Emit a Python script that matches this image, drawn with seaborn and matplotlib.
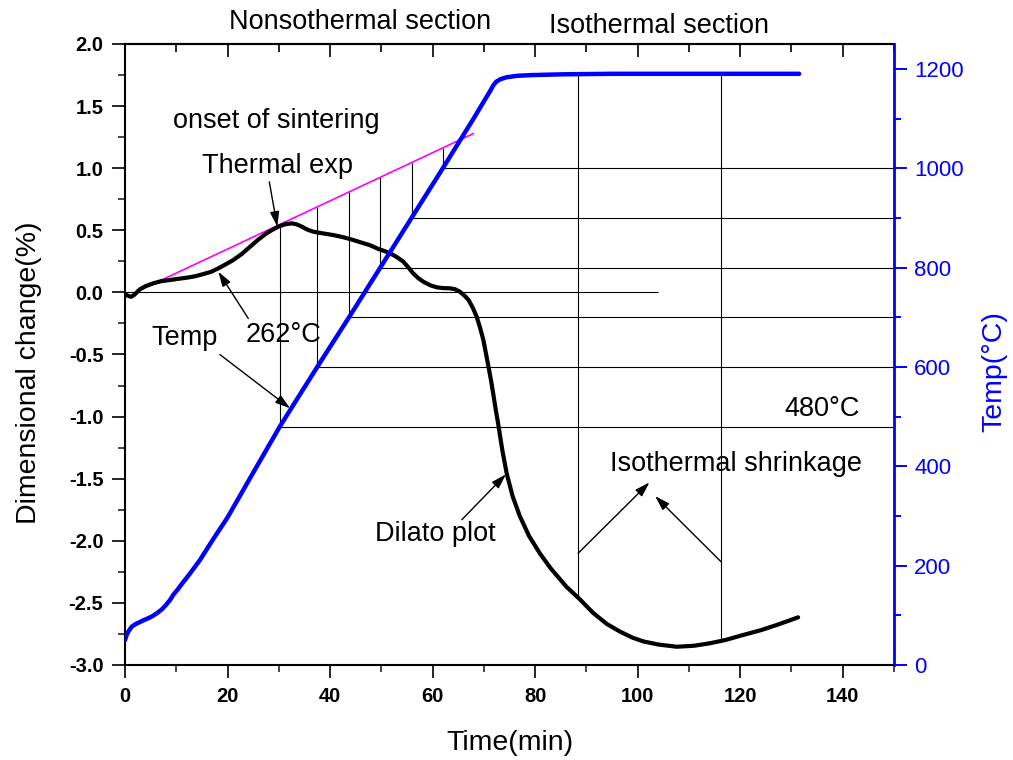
import numpy as np
import pandas as pd
import matplotlib
matplotlib.use("Agg")
import matplotlib.pyplot as plt
from matplotlib.ticker import MultipleLocator
import seaborn as sns

# Dilatometer trace: time (min) vs dimensional change (%)
dil_time = [0.3, 0.7, 1.2, 1.8, 2.9, 4.0, 5.5, 7.0, 8.8, 10.5, 12.0, 13.7,
            15.3, 16.8, 18.2, 19.6, 21.1, 22.8, 24.4, 26.0, 27.6, 28.8, 29.9,
            31.2, 32.5, 33.5, 34.5, 35.6, 36.7, 38.5, 40.6, 42.5, 44.5, 46.2,
            47.8, 49.4, 50.6, 51.7, 53.0, 54.3, 55.3, 56.2, 57.2, 58.2, 59.5,
            60.8, 62.0, 63.4, 64.4, 65.3, 66.2, 67.0, 67.8, 68.6, 69.3, 69.9,
            70.4, 70.9, 71.4, 71.8, 72.3, 72.8, 73.6, 74.45, 75.6, 77.0, 78.8,
            80.9, 83.0, 86.1, 88.7, 91.3, 94.0, 96.5, 99.0, 101.1, 104.0,
            107.6, 111.0, 114.1, 117.0, 120.6, 124.0, 127.1, 129.5, 131.3]
dil_change = [-0.02, -0.03, -0.035, -0.02, 0.025, 0.05, 0.073, 0.09, 0.10,
              0.11, 0.118, 0.13, 0.148, 0.166, 0.194, 0.225, 0.26, 0.31,
              0.368, 0.425, 0.476, 0.505, 0.529, 0.548, 0.556, 0.548, 0.529,
              0.505, 0.489, 0.476, 0.462, 0.445, 0.422, 0.40, 0.38, 0.35,
              0.333, 0.315, 0.285, 0.247, 0.20, 0.154, 0.115, 0.086, 0.058,
              0.041, 0.035, 0.033, 0.025, 0.006, -0.025, -0.061, -0.12,
              -0.196, -0.29, -0.383, -0.49, -0.598, -0.71, -0.81, -0.94,
              -1.06, -1.27, -1.457, -1.64, -1.80, -1.96, -2.10, -2.22, -2.37,
              -2.47, -2.58, -2.67, -2.73, -2.78, -2.81, -2.835, -2.853,
              -2.845, -2.825, -2.80, -2.758, -2.72, -2.678, -2.643, -2.616]

# Furnace temperature profile: time (min) vs temperature (°C)
temp_time = [0.0, 0.3, 0.7, 1.3, 2.0, 2.8, 3.6, 4.5, 5.3, 6.2, 7.2, 8.0, 8.8,
             9.4, 10.2, 11.0, 12.7, 14.6, 17.0, 20.0, 25.0, 30.2, 37.5, 43.7,
             49.8, 55.9, 62.0, 65.0, 68.0, 70.5, 71.2, 71.8, 72.4, 73.2, 74.4,
             76.5, 79.6, 85.5, 95.0, 110.0, 131.5]
temp_value = [50, 60, 68, 77, 82, 86, 90, 94, 98, 104, 112, 121, 131, 141,
              151, 162, 184.5, 211, 250, 297, 387, 480, 600, 700, 800, 900,
              1000, 1050, 1100, 1143, 1155, 1166, 1174, 1179, 1183, 1186,
              1187.5, 1189, 1190, 1190, 1190]

# Thermal-expansion tangent through the early heating segment
tangent_time = [2.0, 68.0]
tangent_change = [0.0, 1.28]

ref_temps = [480, 600, 700, 800, 900, 1000]
# Times bounding the isothermal shrinkage window
iso_marks = [88.4, 116.3]

x_ticks = [0, 20, 40, 60, 80, 100, 120, 140]
y_ticks = [-3.0, -2.5, -2.0, -1.5, -1.0, -0.5, 0.0, 0.5, 1.0, 1.5, 2.0]
t_ticks = [0, 200, 400, 600, 800, 1000, 1200]

BLUE = "#0000ff"
MAGENTA = "#ff00ff"

sns.set_style("ticks")
plt.rcParams["font.family"] = ["Liberation Sans", "DejaVu Sans"]
plt.rcParams["axes.unicode_minus"] = False
plt.rcParams["text.color"] = "black"
plt.rcParams["axes.labelcolor"] = "black"

fig = plt.figure(figsize=(10.13, 7.6), dpi=100)
ax1 = fig.add_axes([125 / 1013, 95 / 760, 769 / 1013, 621 / 760])
ax1.set_xlim(0, 150)
ax1.set_ylim(-3.0, 2.0)
ax2 = ax1.twinx()
ax2.set_ylim(0, 1250)


def temp_to_change(T):
    """Map a temperature on the right axis to left-axis units."""
    t0, t1 = ax2.get_ylim()
    c0, c1 = ax1.get_ylim()
    return c0 + (np.asarray(T, dtype=float) - t0) / (t1 - t0) * (c1 - c0)


dil_df = pd.DataFrame({"time": dil_time, "change": dil_change})
temp_df = pd.DataFrame({"time": temp_time, "temp": temp_value})
tan_df = pd.DataFrame({"time": tangent_time, "change": tangent_change})

# thin construction lines
ramp_mask = np.array(temp_time) <= 70
ramp_t = np.array(temp_time)[ramp_mask]
ramp_T = np.array(temp_value)[ramp_mask]
ref_times = np.interp(ref_temps, ramp_T, ramp_t)

thin = dict(colors="black", linewidth=0.8, zorder=1)
ax1.hlines(0.0, 0, 104, **thin)
ax1.vlines(ref_times, temp_to_change(ref_temps),
           np.interp(ref_times, tangent_time, tangent_change), **thin)
ax1.vlines(iso_marks, np.interp(iso_marks, dil_time, dil_change),
           temp_to_change(np.interp(iso_marks, temp_time, temp_value)), **thin)
ax2.hlines(ref_temps, ref_times, 150, **thin)

# curves
sns.lineplot(data=tan_df, x="time", y="change", ax=ax1, color=MAGENTA,
             linewidth=1.2, estimator=None, sort=False, zorder=2)
sns.lineplot(data=dil_df, x="time", y="change", ax=ax1, color="black",
             linewidth=3.0, estimator=None, sort=False, zorder=4,
             solid_capstyle="round", solid_joinstyle="round")
sns.lineplot(data=temp_df, x="time", y="temp", ax=ax2, color=BLUE,
             linewidth=3.2, estimator=None, sort=False, zorder=4,
             solid_capstyle="round", solid_joinstyle="round")

# axes styling
ax1.set_xlim(0, 150)
ax1.set_ylim(-3.0, 2.0)
ax2.set_ylim(0, 1250)

ax1.set_xticks(x_ticks, labels=[str(v) for v in x_ticks], fontweight="bold")
ax1.set_yticks(y_ticks, labels=[f"{v:.1f}" for v in y_ticks], fontweight="bold")
ax1.xaxis.set_minor_locator(MultipleLocator(10))
ax1.yaxis.set_minor_locator(MultipleLocator(0.25))
ax1.tick_params(axis="both", which="major", direction="out", length=9.5,
                width=1.2, labelsize=14.5, pad=6, colors="black",
                right=False, top=False)
ax1.tick_params(axis="both", which="minor", direction="out", length=5,
                width=1.2, right=False, top=False)
for side in ("left", "bottom", "top"):
    ax1.spines[side].set_linewidth(1.5)
    ax1.spines[side].set_color("black")
ax1.spines["right"].set_visible(False)

top = ax1.secondary_xaxis("top")
top.xaxis.set_major_locator(MultipleLocator(20))
top.xaxis.set_minor_locator(MultipleLocator(10))
top.tick_params(axis="x", which="major", direction="in", length=9.5,
                width=1.2, labeltop=False, colors="black")
top.tick_params(axis="x", which="minor", direction="in", length=5.5,
                width=1.2, labeltop=False, colors="black")
top.spines["top"].set_linewidth(1.5)
top.spines["top"].set_color("black")

ax2.set_yticks(t_ticks, labels=[str(v) for v in t_ticks])
ax2.yaxis.set_minor_locator(MultipleLocator(100))
ax2.tick_params(axis="y", which="major", direction="out", length=9.5,
                width=1.4, labelsize=16, pad=5, colors=BLUE)
ax2.tick_params(axis="y", which="minor", direction="out", length=5,
                width=1.4, colors=BLUE)
for side in ("left", "bottom", "top"):
    ax2.spines[side].set_visible(False)
ax2.spines["right"].set_color(BLUE)
ax2.spines["right"].set_linewidth(2.0)

ax1.set_xlabel("Time(min)", fontsize=20.5, color="black")
ax1.xaxis.set_label_coords(0.5, -0.104)
ax1.set_ylabel("Dimensional change(%)", fontsize=20.5, color="black")
ax1.yaxis.set_label_coords(-0.108, 0.47)
ax2.set_ylabel("Temp(°C)", fontsize=20.5, color=BLUE)
ax2.yaxis.set_label_coords(1.113, 0.472)

# annotations
txt = dict(fontsize=19.5, ha="center", va="baseline", color="black")
ax1.text(45.8, 2.118, "Nonsothermal section", clip_on=False, **txt)
ax1.text(104.1, 2.086, "Isothermal section", clip_on=False, **txt)
ax1.text(29.6, 1.321, "onset of sintering", **txt)
ax1.text(29.8, 0.964, "Thermal exp", **txt)
ax1.text(31.0, -0.397, "262°C", **txt)
ax1.text(11.7, -0.424, "Temp", **txt)
ax1.text(60.6, -2.0, "Dilato plot", **txt)
ax1.text(119.1, -1.436, "Isothermal shrinkage", **txt)
ax1.text(136.0, -0.995, "480°C", **txt)

arrow = dict(arrowstyle="-|>,head_length=0.9,head_width=0.28", color="black",
             linewidth=1.0, shrinkA=0, shrinkB=0, mutation_scale=10)
arrows = [((28.15, 0.89), (29.7, 0.53)),
          ((24.05, -0.21), (18.2, 0.167)),
          ((18.5, -0.5), (32.2, -0.933)),
          ((65.7, -1.83), (74.3, -1.465)),
          ((88.4, -2.1), (102.3, -1.53)),
          ((116.3, -2.17), (103.4, -1.64))]
for tail, head in arrows:
    ax1.annotate("", xy=head, xytext=tail, arrowprops=arrow, zorder=5)

fig.savefig("out.png", dpi=100)
